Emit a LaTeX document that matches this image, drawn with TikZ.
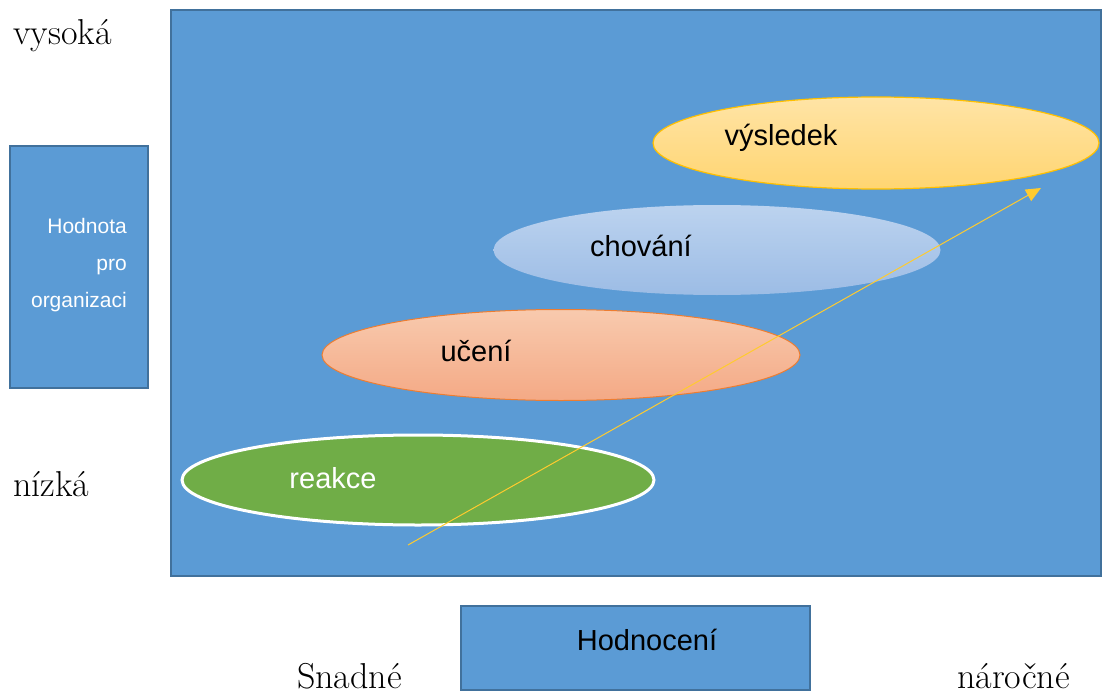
\documentclass[tikz,border=0pt]{standalone}
\usepackage{fontspec}
\newfontfamily\arialf{Liberation Sans}
\usetikzlibrary{shapes.geometric,arrows.meta}
\definecolor{bgblue}{HTML}{5B9BD5}
\definecolor{bordblue}{HTML}{41719C}
\definecolor{gold}{HTML}{FFC000}
\definecolor{arrowc}{HTML}{FFCB2E}
\definecolor{ygtop}{HTML}{FFE4A6}
\definecolor{ygbot}{HTML}{FFD571}
\definecolor{lbtop}{HTML}{BCD3EF}
\definecolor{lbbot}{HTML}{9CBCE5}
\definecolor{sltop}{HTML}{F8CAAE}
\definecolor{slbot}{HTML}{F4A985}
\definecolor{orangeb}{HTML}{ED7D31}
\definecolor{greenf}{HTML}{70AD47}
\tikzset{
  panel/.style={draw=bordblue, line width=2pt, fill=bgblue},
  ell/.style={ellipse, inner sep=0pt},
  sanslab/.style={font=\arialf\fontsize{29}{34}\selectfont, inner sep=0pt, anchor=center},
  seriflab/.style={font=\fontsize{36}{40}\selectfont, inner sep=0pt, anchor=base west},
}
\begin{document}
\begin{tikzpicture}[x=1pt,y=-1pt]
\useasboundingbox (0,0) rectangle (1102,695);
% main panel
\node[panel, minimum width=930pt, minimum height=565pt, inner sep=0pt] (main) at (636,293) {};
% left box
\node[panel, minimum width=138pt, minimum height=241pt, inner sep=0pt] (vbox) at (78.5,267) {};
\node[font=\arialf\fontsize{21}{37}\selectfont, text=white, align=right, anchor=north east, inner sep=0pt] (vtext) at (127,218) {Hodnota\\pro\\organizaci};
% bottom box
\node[panel, minimum width=349pt, minimum height=84pt, inner sep=0pt] (hbox) at (635,648) {};
\node[sanslab] (htext) at (647,640) {Hodnocení};
% ellipses
\node[ell, draw=gold, line width=1.2pt, top color=ygtop, bottom color=ygbot, minimum width=446pt, minimum height=92pt] (vys) at (876,143) {};
\node[ell, top color=lbtop, bottom color=lbbot, minimum width=447pt, minimum height=90pt] (cho) at (717,250) {};
\node[ell, draw=orangeb, line width=1pt, top color=sltop, bottom color=slbot, minimum width=478pt, minimum height=91pt] (uce) at (561,355) {};
\node[ell, draw=white, line width=3pt, fill=greenf, minimum width=472pt, minimum height=90pt] (rea) at (418,480) {};
\node[sanslab] (vyst) at (781,138) {výsledek};
\node[sanslab] (chot) at (641,246) {chování};
\node[sanslab] (ucet) at (476,351) {učení};
\node[sanslab, text=white] (reat) at (333,478) {reakce};
% arrow
\coordinate (as) at (408,545);
\coordinate (ae) at (1041,188);
\draw[arrowc, line width=1pt, -{Triangle[length=15pt, width=13pt]}] (as) -- (ae);
% serif labels
\node[seriflab] (high) at (13,45) {vysoká};
\node[seriflab] (low) at (13,496) {nízká};
\node[seriflab] (easy) at (297,688) {Snadné};
\node[seriflab] (hard) at (957,688) {náročné};
\end{tikzpicture}
\end{document}
